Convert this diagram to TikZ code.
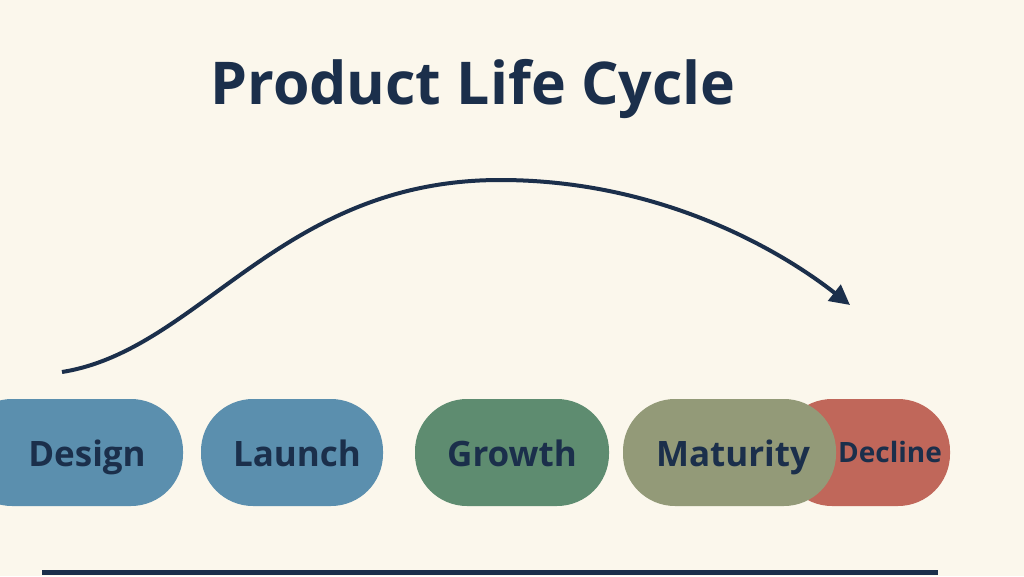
\documentclass[tikz,border=0pt]{standalone}
\usepackage{fontspec}
\setmainfont{Open Sans}
\usetikzlibrary{arrows.meta}
\definecolor{bg}{HTML}{FBF7EC}
\definecolor{navy}{HTML}{1B2F4B}
\definecolor{blue}{HTML}{5B8FAE}
\definecolor{green}{HTML}{5E8C70}
\definecolor{olive}{HTML}{939A78}
\definecolor{red}{HTML}{C0675A}
\begin{document}
\begin{tikzpicture}[x=1pt,y=-1pt,
  pill/.style={rounded corners=52pt,fill=#1,draw=none},
  lbl/.style={text=navy,anchor=base,font=\fontsize{35}{40}\selectfont\bfseries}]
\fill[bg] (0,0) rectangle (1024,576);
\useasboundingbox (0,0) rectangle (1024,576);
\node[text=navy,anchor=base,font=\fontsize{59}{66}\selectfont\bfseries] (title) at (473,104) {Product Life Cycle};
\fill[pill=red] (780,399) rectangle (950,506);
\fill[pill=olive] (623,399) rectangle (836,506);
\fill[pill=blue] (-40,399) rectangle (183,506);
\fill[pill=blue] (201,399) rectangle (383,506);
\fill[pill=green] (415,399) rectangle (609,506);
\node[lbl] (design) at (87,466) {Design};
\node[lbl] (launch) at (297,466) {Launch};
\node[lbl] (growth) at (512,466) {Growth};
\node[lbl] (maturity) at (733,466) {Maturity};
\node[lbl,font=\fontsize{28}{32}\selectfont\bfseries] (decline) at (890,462) {Decline};
\coordinate (s) at (62,372);
\coordinate (e) at (850,305);
\draw[navy,line width=4pt,-{Triangle[length=20pt,width=20pt]}] (s) .. controls (200,350) and (280,180) .. (500,180) .. controls (660,180) and (780,250) .. (e);
\coordinate (l1) at (42,572);
\coordinate (l2) at (938,572);
\draw[navy,line width=5pt] (l1) -- (l2);
\end{tikzpicture}
\end{document}
